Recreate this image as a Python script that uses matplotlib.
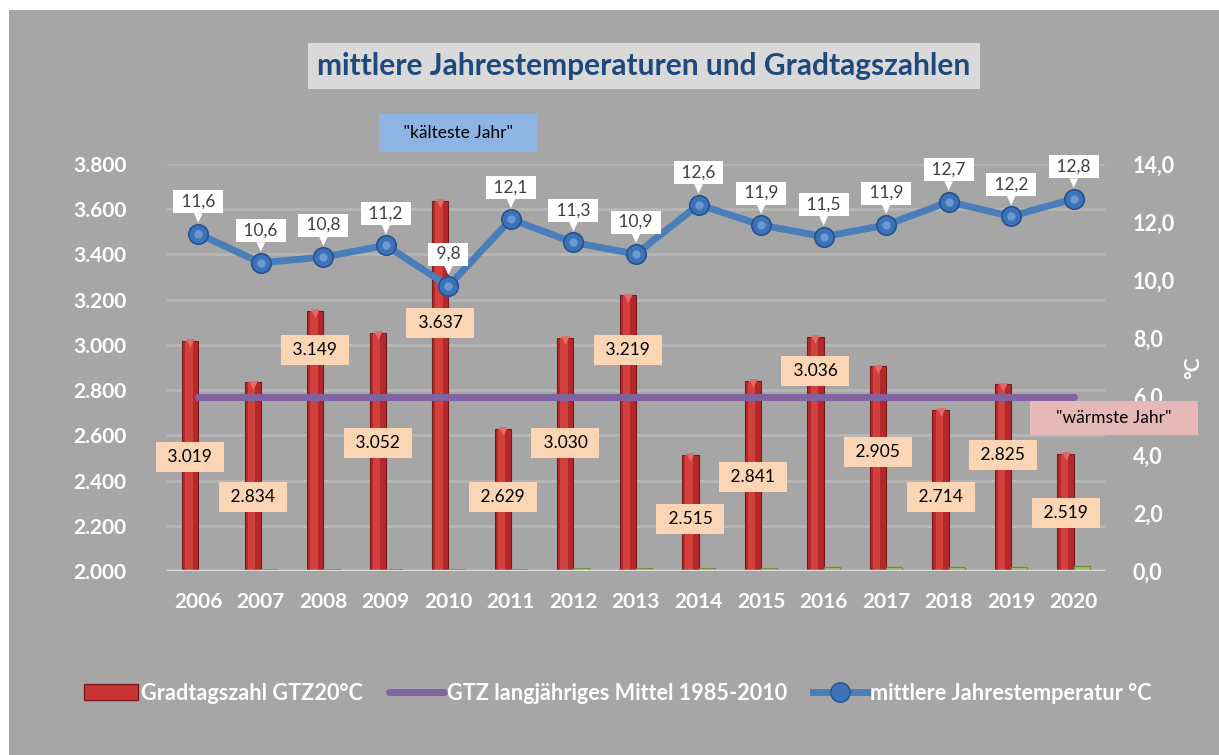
# mittlere Jahrestemperaturen und Gradtagszahlen

import numpy as np
import matplotlib.pyplot as plt
from matplotlib.patches import Rectangle, Patch
from matplotlib.lines import Line2D

plt.rcParams['font.family'] = ['Lato', 'DejaVu Sans']

years = [2006, 2007, 2008, 2009, 2010, 2011, 2012, 2013, 2014, 2015, 2016, 2017, 2018, 2019, 2020]
gtz = [3019, 2834, 3149, 3052, 3637, 2629, 3030, 3219, 2515, 2841, 3036, 2905, 2714, 2825, 2519]
gtz_mittel = [2770] * 15
temp = [11.6, 10.6, 10.8, 11.2, 9.8, 12.1, 11.3, 10.9, 12.6, 11.9, 11.5, 11.9, 12.7, 12.2, 12.8]
# Lage der GTZ-Beschriftungen (wie im Original verteilt)
gtz_label_y = [2504, 2327, 2977, 2566, 3097, 2327, 2566, 2977, 2230, 2416, 2885, 2526, 2327, 2513, 2257]

left_ticks = np.arange(2000, 3801, 200)
right_ticks = np.arange(0, 14.1, 2)

bg = '#A6A6A6'
red = '#B3282B'
purple = '#8064A2'
blue = '#4A7EBB'

W, H = 1219, 755
fig = plt.figure(figsize=(W / 100, H / 100), dpi=100)
fig.patch.set_facecolor('white')
fig.patches.append(Rectangle((9 / W, 0), 1210 / W, 745 / H, transform=fig.transFigure,
                             facecolor=bg, edgecolor='none', zorder=-10))

ax = fig.add_axes([167 / W, 184 / H, 938 / W, 407 / H])
ax.set_facecolor('none')
x = np.arange(len(years))
bw = 0.26

# Gitter
for t in left_ticks[1:]:
    ax.axhline(t, color='#B6B6B6', lw=2, zorder=0)
ax.axhline(2000, color='#DCDCDC', lw=2.5, zorder=3)

# Säulen (Zylinder-Optik)
ax.bar(x - bw / 2, gtz, width=bw, color=red, edgecolor='#7A1A1A', lw=0.8, zorder=2)
ax.bar(x - bw / 2 - 0.02, gtz, width=bw * 0.45, color='#D2403C', lw=0, zorder=2)
ax.scatter(x - bw / 2, np.array(gtz) - 10, marker='v', s=40, color='#E46A6A', zorder=2, lw=0)
ax.bar(x + bw / 2, years, width=bw, color='#9BBB59', edgecolor='#6E8B3D', lw=0.8, zorder=2)

# langjähriges Mittel
ax.plot(x, gtz_mittel, color=purple, lw=5, solid_capstyle='round', zorder=3)

for xi, v, ly in zip(x, gtz, gtz_label_y):
    ax.text(xi - bw / 2, ly, ' ' + f'{v:,}'.replace(',', '.') + ' ', ha='center', va='center',
            fontsize=12.5, color='black', zorder=5,
            bbox=dict(boxstyle='square,pad=0.42', fc='#FCD5B4', ec='none'))

ax.set_xlim(-0.5, len(years) - 0.5)
ax.set_ylim(2000, 3800)
ax.set_yticks(left_ticks)
ax.set_yticklabels([f'{t:,}'.replace(',', '.') for t in left_ticks])
ax.set_xticks(x)
ax.set_xticklabels([str(y) for y in years])
ax.tick_params(axis='y', length=0, pad=29, labelsize=15, labelcolor='white')
ax.tick_params(axis='x', length=0, pad=15, labelsize=15, labelcolor='white')
for lab in ax.get_xticklabels() + ax.get_yticklabels():
    lab.set_fontweight('bold')
for s in ax.spines.values():
    s.set_visible(False)

# Temperatur auf zweiter Achse
ax2 = ax.twinx()
ax2.set_ylim(0, 14)
ax2.set_yticks(right_ticks)
ax2.set_yticklabels([f'{t:.1f}'.replace('.', ',') for t in right_ticks])
ax2.tick_params(axis='y', length=0, pad=20, labelsize=15.5, labelcolor='white')
for lab in ax2.get_yticklabels():
    lab.set_fontweight('bold')
for s in ax2.spines.values():
    s.set_visible(False)
ax2.plot(x, temp, color=blue, lw=5, marker='o', markersize=14, markerfacecolor='#3C73B8',
         markeredgecolor='#25528C', markeredgewidth=1.2, zorder=4)
ax2.plot(x, temp, ls='none', marker='o', markersize=6, markerfacecolor='#8DB3E2',
         markeredgecolor='none', alpha=0.6, zorder=4)
ax2.set_ylabel('°C', color='white', fontsize=15, fontweight='bold', rotation=90, labelpad=6)

for xi, t in zip(x, temp):
    ax2.annotate(' ' + f'{t:.1f}'.replace('.', ',') + ' ', xy=(xi, t), xytext=(0, 32),
                 textcoords='offset pixels', ha='center', va='center', fontsize=12.5, color='#404040',
                 zorder=6, bbox=dict(boxstyle='square,pad=0.2', fc='white', ec='none'),
                 arrowprops=dict(arrowstyle='wedge,tail_width=0.5,shrink_factor=0.5', fc='white',
                                 ec='none', shrinkA=0, shrinkB=8))

# Titel und Hinweise
fig.text(644 / W, 1 - 66 / H, 'mittlere Jahrestemperaturen und Gradtagszahlen', ha='center', va='center',
         fontsize=21.5, fontweight='bold', color='#1F497D',
         bbox=dict(boxstyle='square,pad=0.3', fc='#D9D9D9', ec='none'))
fig.text(458 / W, 1 - 133 / H, '   "kälteste Jahr"   ', ha='center', va='center', fontsize=12.5,
         color='black', bbox=dict(boxstyle='square,pad=0.62', fc='#8DB4E2', ec='none'))
fig.text(1114 / W, 1 - 418 / H, '    "wärmste Jahr"    ', ha='center', va='center', fontsize=12.5,
         color='black', zorder=10, bbox=dict(boxstyle='square,pad=0.5', fc='#E6B9B8', ec='none'))

# Legende
handles = [Patch(facecolor='#C93535', edgecolor='#7A1A1A'),
           Line2D([], [], color=purple, lw=5, solid_capstyle='round'),
           Line2D([], [], color=blue, lw=5, marker='o', markersize=14, markerfacecolor='#3C73B8',
                  markeredgecolor='#25528C')]
labels = ['Gradtagszahl GTZ20°C', 'GTZ langjähriges Mittel 1985-2010', 'mittlere Jahrestemperatur °C']
leg = fig.legend(handles, labels, loc='center', bbox_to_anchor=(618 / W, 1 - 693 / H), ncol=3,
                 frameon=False, fontsize=15.6, handlelength=2.5, handletextpad=0.15, columnspacing=1.2)
for t in leg.get_texts():
    t.set_color('white')
    t.set_fontweight('bold')

fig.savefig('out.png', dpi=100, facecolor=fig.get_facecolor())
